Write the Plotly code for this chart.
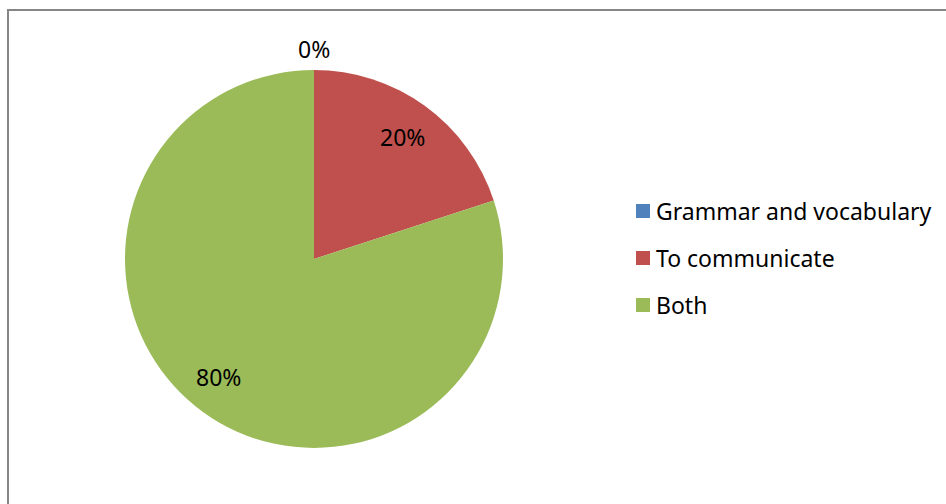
import math
import plotly.graph_objects as go

labels = ["Grammar and vocabulary", "To communicate", "Both"]
values = [0, 20, 80]
colors = ["#4F81BD", "#C0504D", "#9BBB59"]

W, H = 946, 504
cx, cy, R = 314, 259, 189  # pie centre and radius in pixels
FONT = "Noto Sans"
FS = 23

fig = go.Figure(go.Pie(
    labels=labels,
    values=values,
    sort=False,
    direction="clockwise",
    rotation=0,
    marker=dict(colors=colors, line=dict(width=0)),
    textinfo="none",
    hoverinfo="label+percent",
    showlegend=False,
    domain=dict(x=[(cx - R) / W, (cx + R) / W],
                y=[(H - cy - R) / H, (H - cy + R) / H]),
))

annotations = []
shapes = []

# percentage labels near slice mid-angles (small nudges in pixels)
nudge = [(0, 0), (0, 0), (-7, -4)]
total = sum(values)
start = 0.0
for (lab, v), (nx, ny) in zip(zip(labels, values), nudge):
    frac = v / total
    mid = (start + frac / 2) * 2 * math.pi
    r = 0.8 * R if v > 0 else R + 21
    px = cx + r * math.sin(mid) + nx
    py = cy - r * math.cos(mid) + ny
    annotations.append(dict(
        x=px / W, y=1 - py / H, xref="paper", yref="paper",
        text=f"{round(frac * 100)}%", showarrow=False,
        font=dict(family=FONT, size=FS, color="#000000"),
        xanchor="center", yanchor="middle",
    ))
    start += frac

# legend
lx, ly0, dy = 636, 211, 47
for i, (lab, col) in enumerate(zip(labels, colors)):
    y = ly0 + i * dy
    shapes.append(dict(type="rect", xref="paper", yref="paper",
                       x0=lx / W, x1=(lx + 14) / W,
                       y0=1 - (y + 7) / H, y1=1 - (y - 7) / H,
                       fillcolor=col, line=dict(width=0)))
    annotations.append(dict(
        x=(lx + 18) / W, y=1 - y / H, xref="paper", yref="paper",
        text=lab, showarrow=False,
        font=dict(family=FONT, size=FS, color="#000000"),
        xanchor="left", yanchor="middle",
    ))

# chart frame
shapes.append(dict(type="rect", xref="paper", yref="paper",
                   x0=8 / W, x1=1.05, y0=-0.05, y1=1 - 10 / H,
                   line=dict(color="#868686", width=2), fillcolor="rgba(0,0,0,0)"))

fig.update_layout(
    width=W, height=H,
    margin=dict(l=0, r=0, t=0, b=0),
    paper_bgcolor="white", plot_bgcolor="white",
    annotations=annotations, shapes=shapes,
)

fig.write_html("out.html")
